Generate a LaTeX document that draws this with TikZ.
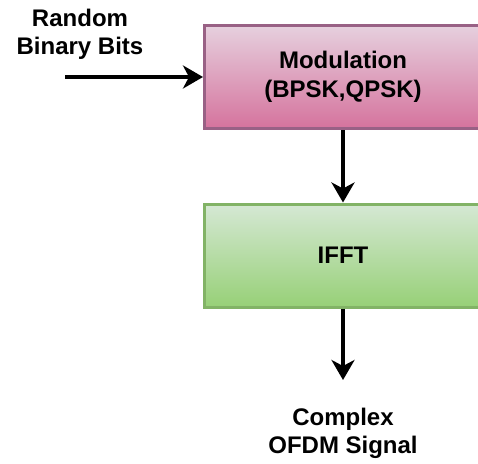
\documentclass[tikz,border=0pt]{standalone}
\usepackage{fontspec}
\setmainfont{Liberation Sans}
\usetikzlibrary{arrows.meta}
\definecolor{modtop}{HTML}{E6D0DE}
\definecolor{modbot}{HTML}{D5739D}
\definecolor{modline}{HTML}{996185}
\definecolor{ffttop}{HTML}{D5E8D4}
\definecolor{fftbot}{HTML}{97D077}
\definecolor{fftline}{HTML}{82B366}
\tikzset{
  block/.style={draw, line width=3pt, minimum width=277pt, minimum height=103pt,
    inner sep=0pt, align=center, font=\fontsize{24}{29}\selectfont\bfseries},
  lbl/.style={align=center, inner sep=0pt, font=\fontsize{24}{28}\selectfont\bfseries},
  flow/.style={->, line width=3.5pt}
}
\begin{document}
\begin{tikzpicture}[x=1pt, y=-1pt, >={Stealth[length=20pt,width=23pt,inset=6pt]}]
\useasboundingbox (0,0) rectangle (478,463);
\clip (0,0) rectangle (478,463);

\node[block, draw=modline, top color=modtop, bottom color=modbot] (mod) at (343,77) {Modulation\\(BPSK,QPSK)};
\node[block, draw=fftline, top color=ffttop, bottom color=fftbot] (ifft) at (343,255.5) {IFFT};

\node[lbl] (bits) at (80,34) {Random\\Binary Bits};
\node[lbl] (sig) at (343,433) {Complex\\OFDM Signal};

\coordinate (in) at (65,77);
\coordinate (out) at (343,380);

\draw[flow] (in) -- (mod.west);
\draw[flow] (mod.south) -- (ifft.north);
\draw[flow] (ifft.south) -- (out);
\end{tikzpicture}
\end{document}
